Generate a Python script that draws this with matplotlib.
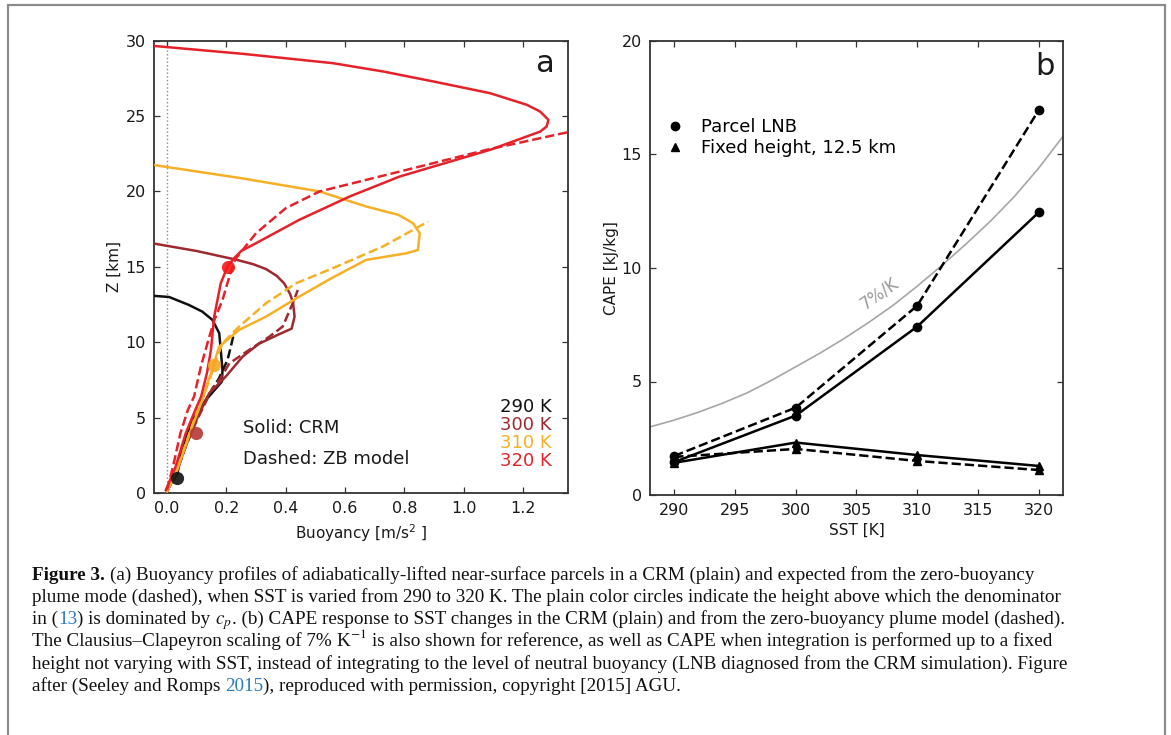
import matplotlib
matplotlib.use('Agg')
import matplotlib.pyplot as plt
from matplotlib.lines import Line2D
from matplotlib.patches import Rectangle

# ---------------- Panel a data (buoyancy m/s^2, height km) ----------------
b290_crm = [0.0, 0.015, 0.035, 0.052, 0.086, 0.131, 0.185, 0.187, 0.181, 0.176, 0.153, 0.119, 0.074, 0.007, -0.06]
z290_crm = [0.1, 0.7, 1.3, 3.07, 4.84, 6.17, 7.39, 8.16, 9.49, 10.6, 11.48, 12.03, 12.47, 13.0, 13.1]
b290_zb = [0.0, 0.03, 0.055, 0.09, 0.135, 0.175, 0.204, 0.215, 0.227]
z290_zb = [0.2, 1.3, 3.0, 4.8, 6.3, 7.6, 8.83, 9.7, 10.7]

b300_crm = [0.0, 0.03, 0.065, 0.1, 0.142, 0.198, 0.255, 0.31, 0.38, 0.42, 0.43, 0.425, 0.415, 0.395, 0.37, 0.334, 0.29, 0.232, 0.1, -0.06]
z300_crm = [0.1, 1.3, 3.2, 4.9, 6.62, 7.72, 9.05, 9.9, 10.55, 10.9, 11.7, 12.6, 13.2, 13.9, 14.4, 14.85, 15.18, 15.48, 16.05, 16.6]
b300_zb = [0.0, 0.035, 0.065, 0.1, 0.153, 0.18, 0.21, 0.277, 0.345, 0.39, 0.424, 0.441]
z300_zb = [0.2, 1.5, 3.2, 4.8, 6.95, 7.6, 8.6, 9.49, 10.37, 11.04, 12.59, 13.47]

b310_crm = [0.0, 0.03, 0.06, 0.09, 0.12, 0.136, 0.153, 0.165, 0.176, 0.243, 0.334, 0.446, 0.55, 0.671, 0.807, 0.846, 0.852, 0.829, 0.78, 0.672, 0.514, 0.25, -0.06]
z310_crm = [0.1, 1.3, 3.0, 4.7, 6.2, 7.28, 8.16, 9.05, 9.71, 10.82, 11.7, 13.03, 14.2, 15.46, 15.9, 16.12, 17.23, 17.9, 18.45, 19.0, 20.0, 20.88, 21.8]
b310_zb = [0.0, 0.03, 0.06, 0.09, 0.12, 0.145, 0.165, 0.187, 0.243, 0.334, 0.435, 0.559, 0.728, 0.88]
z310_zb = [0.2, 1.4, 3.1, 4.8, 6.3, 7.6, 8.83, 9.93, 11.04, 12.59, 13.91, 14.91, 16.35, 18.0]

b320_crm = [-0.004, 0.029, 0.063, 0.095, 0.115, 0.135, 0.148, 0.159, 0.181, 0.204, 0.225, 0.25, 0.3, 0.446, 0.615, 0.784, 1.089, 1.258, 1.28, 1.286, 1.258, 1.213, 1.089, 0.897, 0.728, 0.559, 0.255, -0.06]
z320_crm = [0.2, 1.75, 3.96, 5.5, 6.4, 8.0, 9.49, 11.7, 13.91, 15.02, 15.55, 16.05, 16.57, 18.12, 19.66, 20.99, 22.76, 23.97, 24.31, 24.75, 25.3, 25.75, 26.52, 27.3, 27.96, 28.51, 29.13, 29.68]
b320_zb = [0.0, 0.02, 0.045, 0.07, 0.091, 0.114, 0.14, 0.16, 0.187, 0.21, 0.23, 0.255, 0.3, 0.401, 0.514, 0.762, 1.077, 1.337, 1.40]
z320_zb = [0.2, 1.75, 3.96, 5.5, 6.39, 8.38, 10.2, 11.5, 12.8, 14.35, 15.5, 16.12, 17.23, 18.9, 20.0, 21.21, 22.76, 23.87, 24.1]

dot_b = [0.035, 0.097, 0.159, 0.204]
dot_z = [1.0, 4.0, 8.49, 15.02]

sst_labels = ['290 K', '300 K', '310 K', '320 K']

# ---------------- Panel b data ----------------
sst = [290, 300, 310, 320]
cape_lnb_crm = [1.45, 3.5, 7.42, 12.45]
cape_lnb_zb = [1.72, 3.85, 8.34, 16.95]
cape_fix_crm = [1.42, 2.31, 1.76, 1.28]
cape_fix_zb = [1.68, 2.03, 1.5, 1.1]
cc_sst = [288, 290, 292, 294, 296, 298, 300, 302, 304, 306, 308, 310, 312, 314, 316, 318, 320, 322]
cc_cape = [3.0, 3.3, 3.65, 4.05, 4.5, 5.05, 5.65, 6.25, 6.9, 7.6, 8.35, 9.2, 10.1, 11.05, 12.05, 13.15, 14.4, 15.8]

# ---------------- Figure ----------------
W, H = 1171, 735
fig = plt.figure(figsize=(W / 100, H / 100), dpi=100)
fig.patch.set_facecolor('white')

def fx(px):
    return px / W

def fy(py):
    return 1 - py / H

c290, c300, c310, c320 = '#111111', '#9e2a2f', '#f5b027', '#e5222a'
dot_cols = ['#111111', '#b23a35', '#f5a81f', '#f41a1a']
spine_col = '#333333'

def style_axes(ax):
    for s in ax.spines.values():
        s.set_color(spine_col)
        s.set_linewidth(1.3)
    ax.tick_params(direction='in', top=True, right=True, length=4.5, width=0.9,
                   colors=spine_col, labelcolor='#1a1a1a', labelsize=11.5, pad=6)

# Panel a
axa = fig.add_axes([fx(154), fy(493), fx(568) - fx(154), fy(40.7) - fy(493)])
axa.axvline(0, color='#8a8a8a', ls=':', lw=1.0, zorder=1)
lw = 1.8
axa.plot(b290_crm, z290_crm, color=c290, lw=lw, zorder=3)
axa.plot(b290_zb, z290_zb, color=c290, lw=lw, ls='--', zorder=3)
axa.plot(b300_crm, z300_crm, color=c300, lw=lw, zorder=3)
axa.plot(b300_zb, z300_zb, color=c300, lw=lw, ls='--', zorder=3)
axa.plot(b310_crm, z310_crm, color=c310, lw=lw, zorder=3)
axa.plot(b310_zb, z310_zb, color=c310, lw=lw, ls='--', zorder=3)
axa.plot(b320_crm, z320_crm, color=c320, lw=lw, zorder=4)
axa.plot(b320_zb, z320_zb, color=c320, lw=lw, ls='--', zorder=4)
for bx, bz, c in zip(dot_b, dot_z, dot_cols):
    axa.plot([bx], [bz], 'o', color=c, ms=9.5, mec='none', zorder=5, alpha=0.9)
axa.set_xlim(-0.044, 1.352)
axa.set_ylim(0, 30)
axa.set_xticks([0.0, 0.2, 0.4, 0.6, 0.8, 1.0, 1.2])
axa.set_xticklabels(['0.0', '0.2', '0.4', '0.6', '0.8', '1.0', '1.2'])
axa.set_yticks([0, 5, 10, 15, 20, 25, 30])
style_axes(axa)
axa.set_xlabel('Buoyancy [m/s$^2$ ]', fontsize=11, color='#1a1a1a', labelpad=4)
axa.set_ylabel('Z [km]', fontsize=11, color='#1a1a1a', labelpad=2.5)
axa.text(0.965, 0.93, 'a', transform=axa.transAxes, ha='right', va='baseline', fontsize=22, color='#1a1a1a')
axa.text(0.216, 0.143, 'Solid: CRM', transform=axa.transAxes, ha='left', va='center', fontsize=13, color='#1a1a1a')
axa.text(0.216, 0.0745, 'Dashed: ZB model', transform=axa.transAxes, ha='left', va='center', fontsize=13, color='#1a1a1a')
for lab, c, yy in zip(sst_labels, [c290, c300, c310, c320], [0.191, 0.151, 0.111, 0.071]):
    axa.text(0.961, yy, lab, transform=axa.transAxes, ha='right', va='center', fontsize=13, color=c)

# Panel b
axb = fig.add_axes([fx(650), fy(495), fx(1063) - fx(650), fy(41) - fy(495)])
axb.plot(cc_sst, cc_cape, color='#a6a6a6', lw=1.2, zorder=1)
axb.plot(sst, cape_lnb_crm, color='black', lw=1.8, marker='o', ms=6, zorder=3)
axb.plot(sst, cape_lnb_zb, color='black', lw=1.8, ls='--', marker='o', ms=6, zorder=3)
axb.plot(sst, cape_fix_crm, color='black', lw=1.8, marker='^', ms=6, zorder=3)
axb.plot(sst, cape_fix_zb, color='black', lw=1.8, ls='--', marker='^', ms=6, zorder=3)
axb.set_xlim(288, 322)
axb.set_ylim(0, 20)
axb.set_xticks([290, 295, 300, 305, 310, 315, 320])
axb.set_yticks([0, 5, 10, 15, 20])
style_axes(axb)
axb.set_xlabel('SST [K]', fontsize=11, color='#1a1a1a', labelpad=3)
axb.set_ylabel('CAPE [kJ/kg]', fontsize=11, color='#1a1a1a', labelpad=2)
axb.text(0.98, 0.925, 'b', transform=axb.transAxes, ha='right', va='baseline', fontsize=22, color='#1a1a1a')
axb.text(306.9, 8.9, '7%/K', rotation=35, color='#9a9a9a', fontsize=12,
         ha='center', va='center', rotation_mode='anchor')
handles = [Line2D([], [], color='black', marker='o', ls='none', ms=6),
           Line2D([], [], color='black', marker='^', ls='none', ms=6)]
axb.legend(handles, ['Parcel LNB', 'Fixed height, 12.5 km'], loc='upper left',
           bbox_to_anchor=(0.0, 0.862), frameon=False, fontsize=13, handlelength=1.2,
           handletextpad=0.8, labelspacing=0.18, borderaxespad=0.4)

# Outer frame
fig.add_artist(Rectangle((fx(8), fy(745)), fx(1165) - fx(8), fy(5) - fy(745),
                         transform=fig.transFigure, fill=False, ec='#8c8c8c', lw=1.6))

# ---------------- Caption ----------------
serif = 'Liberation Serif'
blue = '#2b7bbf'
r = fig.canvas.get_renderer()

def width_of(s, **kw):
    t = fig.text(0, 0, s, family=serif, **kw)
    w = t.get_window_extent(r).width
    t.remove()
    return w

ref_line = ('plume mode (dashed), when SST is varied from 290 to 320 K. '
            'The plain color circles indicate the height above which the denominator')
fs = 10 * 1028 / width_of(ref_line, fontsize=10)
space_w = width_of('a a', fontsize=fs) - width_of('aa', fontsize=fs)

cap_lines = [
    [('Figure 3.', {'fontweight': 'bold'}),
     (' (a) Buoyancy profiles of adiabatically-lifted near-surface parcels in a CRM (plain) and expected from the zero-buoyancy', {})],
    [(ref_line, {})],
    [('in (', {}), ('13', {'color': blue}), (') is dominated by ', {}), (r'$c_p$', {}),
     ('. (b) CAPE response to SST changes in the CRM (plain) and from the zero-buoyancy plume model (dashed).', {})],
    [('The Clausius–Clapeyron scaling of 7% ', {}), (r'K$^{-1}$', {}),
     (' is also shown for reference, as well as CAPE when integration is performed up to a fixed', {})],
    [('height not varying with SST, instead of integrating to the level of neutral buoyancy (LNB diagnosed from the CRM simulation). Figure', {})],
    [('after (Seeley and Romps ', {}), ('2015', {'color': blue}),
     ('), reproduced with permission, copyright [2015] AGU.', {})],
]

y0 = 579.5
dy = 22.25
for i, segs in enumerate(cap_lines):
    x = 32.0
    for s, kw in segs:
        lead = len(s) - len(s.lstrip(' '))
        trail = len(s) - len(s.rstrip(' '))
        core = s.strip(' ')
        x += lead * space_w
        kw2 = dict(color='#111111')
        kw2.update(kw)
        t = fig.text(fx(x), fy(y0 + i * dy), core, family=serif, fontsize=fs,
                     ha='left', va='baseline', math_fontfamily='stix', **kw2)
        x += t.get_window_extent(r).width + trail * space_w

fig.savefig('out.png', dpi=100, facecolor='white')
